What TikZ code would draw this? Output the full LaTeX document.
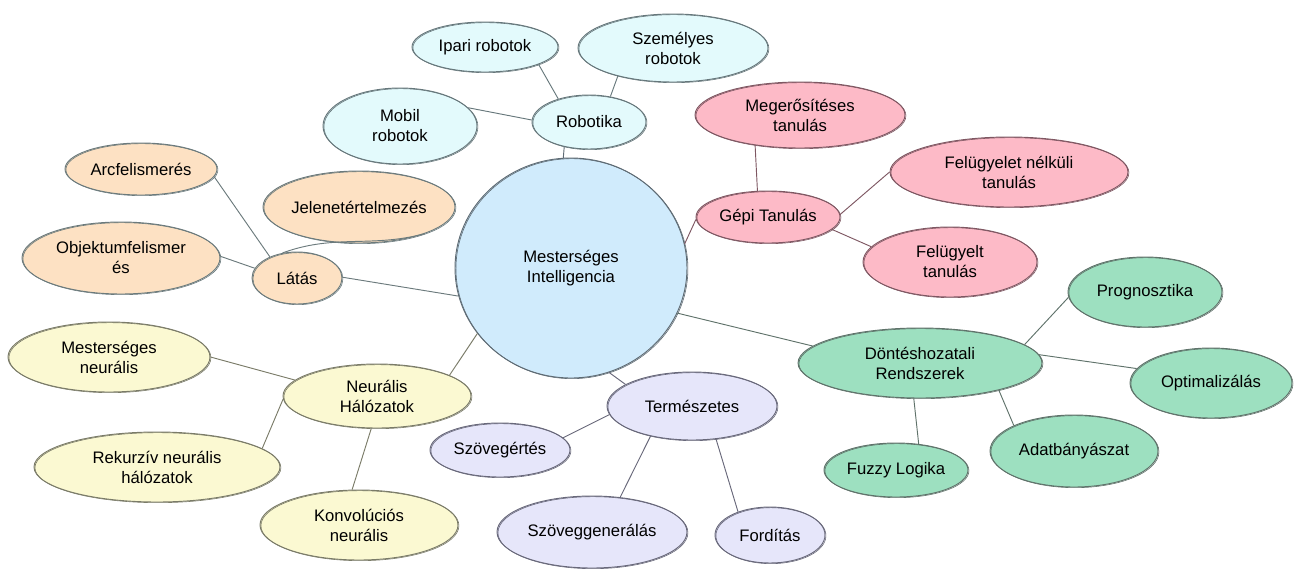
\documentclass[tikz,border=0pt]{standalone}
\usepackage{fontspec}
\setmainfont{Liberation Sans}
\usetikzlibrary{shapes.geometric}
\definecolor{rootfill}{HTML}{D0EBFC}
\definecolor{robfill}{HTML}{E3FAFC}
\definecolor{mlfill}{HTML}{FDBAC7}
\definecolor{visfill}{HTML}{FDE1C3}
\definecolor{neufill}{HTML}{FBF9D2}
\definecolor{nlpfill}{HTML}{E6E6FA}
\definecolor{decfill}{HTML}{9DE0C0}
\definecolor{rootline}{HTML}{5E6B74}
\definecolor{robline}{HTML}{66777B}
\definecolor{mlline}{HTML}{7E5762}
\definecolor{visline}{HTML}{6B7A7C}
\definecolor{neuline}{HTML}{7A7B68}
\definecolor{nlpline}{HTML}{68687A}
\definecolor{decline}{HTML}{5F726A}
\tikzset{
  bub/.style={ellipse, inner sep=0pt, align=center, line width=0.7pt,
    font=\fontsize{12.5}{15}\selectfont,
    postaction={draw, line width=0.45pt, transform canvas={xshift=0.7pt, yshift=-0.5pt}}},
  sz/.style 2 args={minimum width=#1*1.5pt, minimum height=#2*1.5pt},
  rootb/.style={bub, fill=rootfill, draw=rootline},
  robb/.style={bub, fill=robfill, draw=robline},
  mlb/.style={bub, fill=mlfill, draw=mlline},
  visb/.style={bub, fill=visfill, draw=visline},
  neub/.style={bub, fill=neufill, draw=neuline},
  nlpb/.style={bub, fill=nlpfill, draw=nlpline},
  decb/.style={bub, fill=decfill, draw=decline},
  con/.style={line width=0.7pt, draw=#1},
}
\begin{document}
\begin{tikzpicture}[x=0.75pt, y=-0.75pt]
\useasboundingbox (0,0) rectangle (1301,578);
% root
\node[rootb, sz={116}{110}] (root) at (571,268) {Mesterséges\\Intelligencia};
% robotics
\node[robb, sz={57}{27}] (rob) at (589,122) {Robotika};
\node[robb, sz={73}{25}] (ipari) at (485,47) {Ipari robotok};
\node[robb, sz={95}{34}] (szem) at (673,48) {Személyes\\robotok};
\node[robb, sz={77}{38}] (mobil) at (400,126) {Mobil\\robotok};
% machine learning
\node[mlb, sz={72}{26}] (gepi) at (768,217) {Gépi Tanulás};
\node[mlb, sz={105}{33}] (meg) at (800,115) {Megerősítéses\\tanulás};
\node[mlb, sz={119}{35}] (fnel) at (1009,172) {Felügyelet nélküli\\tanulás};
\node[mlb, sz={87}{35}] (fel) at (950,262) {Felügyelt\\tanulás};
% vision
\node[visb, sz={45}{26}] (latas) at (297,278) {Látás};
\node[visb, sz={76}{26}] (arc) at (141,169) {Arcfelismerés};
\node[visb, sz={96}{36}] (jel) at (359,207) {Jelenetértelmezés};
\node[visb, sz={99}{36}] (obj) at (121,258) {Objektumfelismer\\és};
% neural
\node[neub, sz={94}{32}] (neur) at (377,396) {Neurális\\Hálózatok};
\node[neub, sz={101}{35}] (mneur) at (109,357) {Mesterséges\\neurális};
\node[neub, sz={123}{35}] (rek) at (157,467) {Rekurzív neurális\\hálózatok};
\node[neub, sz={99}{35}] (konv) at (359,525) {Konvolúciós\\neurális};
% NLP
\node[nlpb, sz={85}{34}] (term) at (692,406) {Természetes};
\node[nlpb, sz={70}{27}] (szert) at (500,450) {Szövegértés};
\node[nlpb, sz={95}{36}] (szgen) at (592,532) {Szöveggenerálás};
\node[nlpb, sz={55}{28}] (ford) at (770,535) {Fordítás};
% decision
\node[decb, sz={122}{35}] (dont) at (920,363) {Döntéshozatali\\Rendszerek};
\node[decb, sz={77}{35}] (prog) at (1145,292) {Prognosztika};
\node[decb, sz={81}{35}] (opt) at (1211,383) {Optimalizálás};
\node[decb, sz={84}{36}] (adat) at (1074,451) {Adatbányászat};
\node[decb, sz={72}{27}] (fuzzy) at (896,470) {Fuzzy Logika};
% connectors
\draw[con=rootline] (root.94) -- (rob.225);
\draw[con=robline] (ipari.-18) -- (rob.143);
\draw[con=robline] (szem.207) -- (rob.50);
\draw[con=robline] (mobil.15) -- (rob.178);
\draw[con=mlline] (root.12) -- (gepi.182);
\draw[con=mlline] (meg.214) -- (gepi.112);
\draw[con=mlline] (gepi.2) -- (fnel.180);
\draw[con=mlline] (gepi.-11) -- (fel.169);
\draw[con=visline] (root.194) -- (latas.1);
\draw[con=visline] (arc.-6) -- (latas.142);
\draw[con=visline] (latas.120) to[out=20, in=195] (jel.-22);
\draw[con=visline] (obj.1) -- (latas.167);
\draw[con=neuline] (root.215) -- (neur.16);
\draw[con=neuline] (mneur.0) -- (neur.169);
\draw[con=neuline] (rek.10) -- (neur.182);
\draw[con=neuline] (konv.101) -- (neur.-100);
\draw[con=nlpline] (root.-70) -- (term.162);
\draw[con=nlpline] (szert.11) -- (term.186);
\draw[con=nlpline] (szgen.51) -- (term.216);
\draw[con=nlpline] (ford.144) -- (term.-54);
\draw[con=decline] (root.-23) -- (dont.171);
\draw[con=decline] (dont.10) -- (prog.184);
\draw[con=decline] (dont.4) -- (opt.169);
\draw[con=decline] (dont.-19) -- (adat.157);
\draw[con=decline] (dont.-100) -- (fuzzy.49);
\end{tikzpicture}
\end{document}
